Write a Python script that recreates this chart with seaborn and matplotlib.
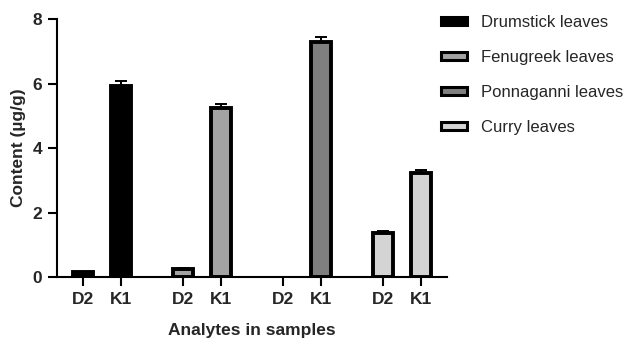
import numpy as np
import pandas as pd
import matplotlib
matplotlib.use("Agg")
import matplotlib.pyplot as plt
import seaborn as sns
from matplotlib.patches import Patch

# values (ug/g), nan = not detected
leaves = ["Drumstick leaves", "Fenugreek leaves", "Ponnaganni leaves", "Curry leaves"]
analytes = ["D2", "K1"]
d2_mean = [0.15, 0.25, np.nan, 1.37]
d2_sd = [0.02, 0.03, np.nan, 0.06]
k1_mean = [5.93, 5.25, 7.30, 3.22]
k1_sd = [0.15, 0.11, 0.15, 0.09]
colors = ["#000000", "#a3a3a3", "#7f7f7f", "#d4d4d4"]

group_gap = 2.63  # distance between leaf groups, in bar slots

rows = []
for g, leaf in enumerate(leaves):
    for a, (m, s) in enumerate([(d2_mean[g], d2_sd[g]), (k1_mean[g], k1_sd[g])]):
        rows.append({"leaf": leaf, "analyte": analytes[a],
                     "pos": g * group_gap + a, "mean": m, "sd": s})
df = pd.DataFrame(rows)

sns.set_style("ticks")
plt.rcParams["font.family"] = ["Liberation Sans", "DejaVu Sans"]

fig = plt.figure(figsize=(6.27, 3.4), dpi=100)
ax = fig.add_axes([0.0909, 0.185, 0.622, 0.759])

palette = dict(zip(leaves, colors))
sns.barplot(data=df.dropna(), x="pos", y="mean", hue="leaf", palette=palette,
            native_scale=True, dodge=False, width=0.53, errorbar=None,
            edgecolor="black", linewidth=2.8, legend=False, ax=ax)

ok = df.dropna()
ax.errorbar(ok["pos"], ok["mean"], yerr=[np.zeros(len(ok)), ok["sd"]],
            fmt="none", ecolor="black", elinewidth=1.4, capsize=4.5,
            capthick=1.4, zorder=1)

ax.set_xlim(-0.68, 9.58)
ax.set_ylim(0, 8)
ax.set_yticks([0, 2, 4, 6, 8])
ax.set_xticks(df["pos"])
ax.set_xticklabels(df["analyte"])

for lab in ax.get_xticklabels() + ax.get_yticklabels():
    lab.set_fontweight("bold")
    lab.set_fontsize(12.5)
ax.tick_params(axis="both", width=1.5, length=6.5, color="black", pad=4)

ax.set_ylabel("Content (µg/g)", fontsize=12.5, fontweight="bold", labelpad=5)
ax.set_xlabel("Analytes in samples", fontsize=12.5, fontweight="bold", labelpad=12)

for side in ["left", "bottom"]:
    ax.spines[side].set_linewidth(1.5)
    ax.spines[side].set_color("black")
sns.despine(ax=ax)

handles = [Patch(facecolor=c, edgecolor="black", linewidth=2.2, label=l)
           for l, c in zip(leaves, colors)]
fig.legend(handles=handles, loc="upper left", bbox_to_anchor=(0.685, 0.99),
           frameon=False, fontsize=12, handlelength=1.55, handleheight=0.36,
           labelspacing=1.19, handletextpad=0.85, borderpad=0.2)

fig.savefig("out.png", dpi=100)
